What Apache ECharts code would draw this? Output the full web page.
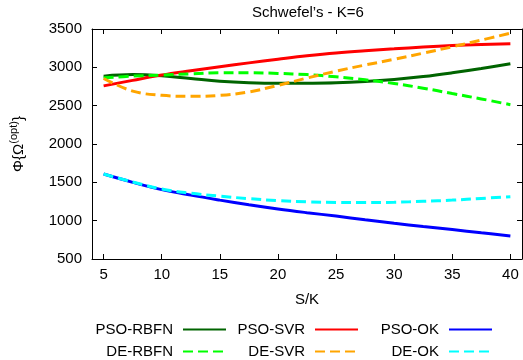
<!DOCTYPE html>
<html>
<head>
<meta charset="utf-8">
<script src="https://cdn.jsdelivr.net/npm/echarts@6/dist/echarts.min.js"></script>
<style>
  html, body { margin: 0; padding: 0; background: #fff; }
  #chart { width: 523px; height: 360px; }
</style>
</head>
<body>
<div id="chart"></div>
<script>
// S/K sample points (every 2.5)
const sk = [5, 7.5, 10, 12.5, 15, 17.5, 20, 22.5, 25, 27.5, 30, 32.5, 35, 37.5, 40]
const xTicks = [5, 10, 15, 20, 25, 30, 35, 40]

const psoRbfn = [2885, 2905, 2890, 2855, 2820, 2800, 2792, 2793, 2798, 2815, 2842, 2880, 2929, 2985, 3047]
const psoSvr = [2758, 2830, 2899, 2955, 3008, 3058, 3105, 3150, 3188, 3217, 3241, 3265, 3284, 3297, 3306]
const psoOk = [1608, 1500, 1405, 1333, 1268, 1207, 1152, 1104, 1060, 1012, 966, 924, 884, 842, 801]
const deRbfn = [2863, 2885, 2899, 2915, 2929, 2930, 2921, 2905, 2876, 2838, 2789, 2728, 2658, 2588, 2513]
const deSvr = [2855, 2690, 2635, 2622, 2635, 2679, 2765, 2860, 2950, 3030, 3105, 3185, 3268, 3355, 3445]
const deOk = [1608, 1505, 1412, 1358, 1320, 1287, 1262, 1246, 1238, 1236, 1240, 1252, 1268, 1290, 1313]

const FONT = '"Liberation Sans", Arial, Helvetica, sans-serif'

const chart = echarts.init(document.getElementById('chart'), null, { renderer: 'canvas' })

// series definitions: name, data, colour, dashed?
const lines = [
  { name: 'PSO-RBFN', data: psoRbfn, color: '#006400', dashed: false },
  { name: 'PSO-SVR', data: psoSvr, color: '#ff0000', dashed: false },
  { name: 'PSO-OK', data: psoOk, color: '#0000ff', dashed: false },
  { name: 'DE-RBFN', data: deRbfn, color: '#00ff00', dashed: true },
  { name: 'DE-SVR', data: deSvr, color: '#ffa500', dashed: true },
  { name: 'DE-OK', data: deOk, color: '#00ffff', dashed: true }
]

// legend positions: right edge of the line sample, row top
const legendPos = [
  { right: 296, top: 322 }, { right: 164, top: 322 }, { right: 30, top: 322 },
  { right: 296, top: 344 }, { right: 164, top: 344 }, { right: 30, top: 344 }
]

const tickStyle = { show: true, inside: true, length: 5, lineStyle: { color: '#000', width: 1 } }
const axisLine = { show: true, lineStyle: { color: '#000', width: 1 } }

const option = {
  animation: false,
  backgroundColor: '#fff',
  title: {
    text: 'Schwefel\u2019s - K=6',
    left: 247,
    top: 0,
    textStyle: { fontFamily: FONT, fontSize: 15, fontWeight: 'normal', color: '#000' }
  },
  grid: { left: 82, right: 1, top: 29, bottom: 101, containLabel: false },
  legend: lines.map((l, i) => ({
    data: [l.name],
    right: legendPos[i].right,
    top: legendPos[i].top,
    align: 'right',
    itemWidth: 43,
    itemHeight: 14,
    padding: 0,
    itemStyle: { opacity: 0 },
    textStyle: { fontFamily: FONT, fontSize: 15, color: '#000', padding: [0, 5, 0, 0] }
  })),
  xAxis: [
    {
      type: 'value', min: 4, max: 41,
      name: 'S/K', nameLocation: 'middle', nameGap: 33,
      nameTextStyle: { fontFamily: FONT, fontSize: 15, color: '#000' },
      axisLine: axisLine,
      axisTick: Object.assign({ customValues: xTicks }, tickStyle),
      axisLabel: { customValues: xTicks, fontFamily: FONT, fontSize: 15, color: '#000', margin: 8 },
      splitLine: { show: false }
    },
    {
      type: 'value', min: 4, max: 41, position: 'top',
      axisLine: axisLine,
      axisTick: Object.assign({ customValues: xTicks }, tickStyle),
      axisLabel: { show: false },
      splitLine: { show: false }
    }
  ],
  yAxis: [
    {
      type: 'value', min: 500, max: 3500, interval: 500,
      name: '\u03a6{\u03a9{s|(opt)}}', nameLocation: 'middle', nameGap: 62, nameRotate: 90,
      nameTextStyle: {
        fontFamily: FONT, fontSize: 15, color: '#000', lineHeight: 22,
        rich: { s: { fontFamily: FONT, fontSize: 11, color: '#000', verticalAlign: 'top', lineHeight: 12 } }
      },
      axisLine: axisLine,
      axisTick: tickStyle,
      axisLabel: { fontFamily: FONT, fontSize: 15, color: '#000', margin: 10, formatter: v => String(v) },
      splitLine: { show: false }
    },
    {
      type: 'value', min: 500, max: 3500, interval: 500, position: 'right',
      axisLine: axisLine,
      axisTick: tickStyle,
      axisLabel: { show: false },
      splitLine: { show: false }
    }
  ],
  series: lines.map(l => ({
    name: l.name,
    type: 'line',
    xAxisIndex: 0,
    yAxisIndex: 0,
    smooth: 0.4,
    symbol: 'none',
    data: sk.map((x, i) => [x, l.data[i]]),
    lineStyle: { color: l.color, width: 3, type: l.dashed ? [10, 5] : 'solid' },
    itemStyle: { color: l.color }
  }))
}

chart.setOption(option)
</script>
</body>
</html>
